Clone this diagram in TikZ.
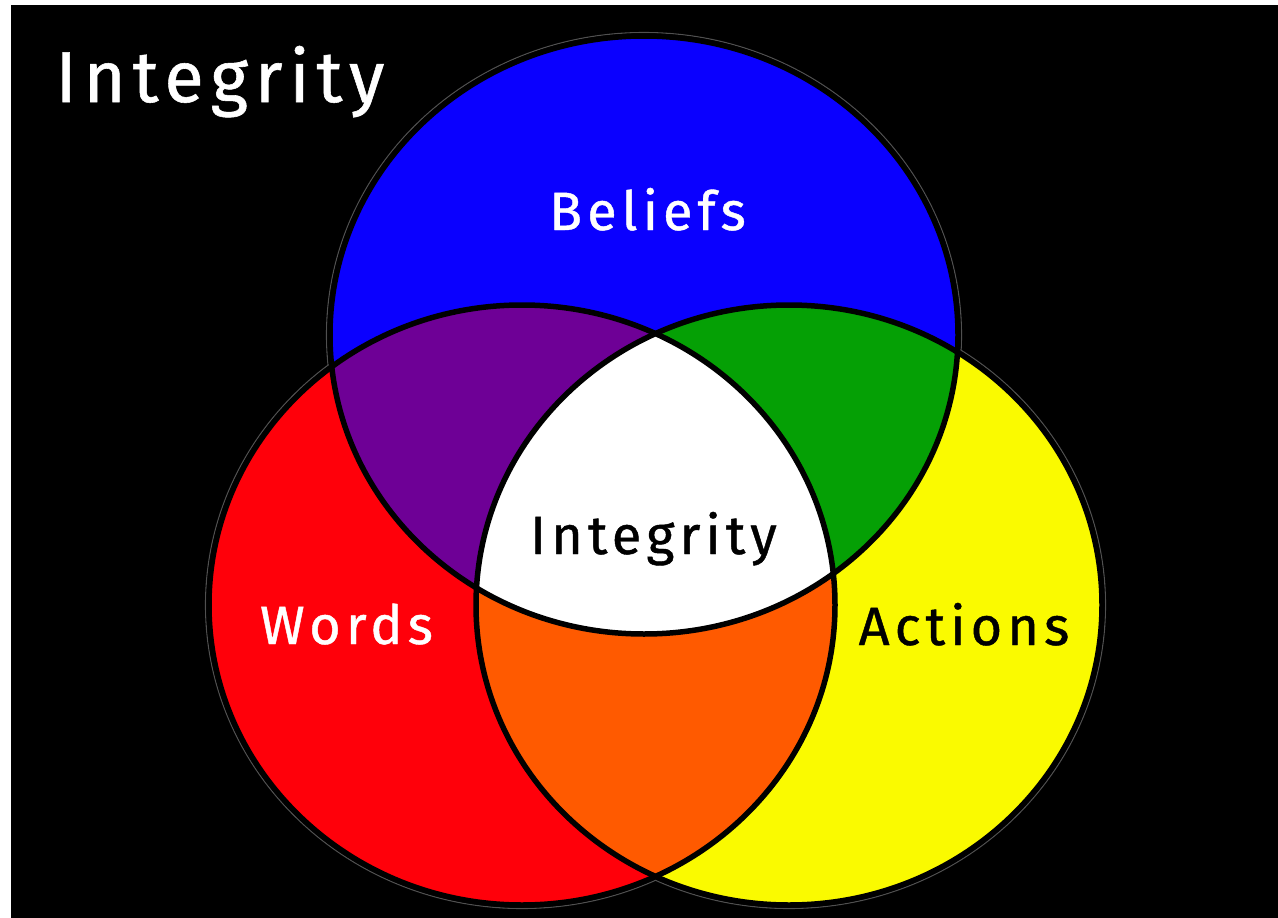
\documentclass[tikz,border=0pt]{standalone}
\usepackage{fontspec}
\newfontfamily\lblfont[LetterSpace=9.5, FakeBold=0.8]{Fira Sans}
\definecolor{cBlue}{RGB}{10,0,255}
\definecolor{cRed}{RGB}{255,0,10}
\definecolor{cYellow}{RGB}{250,250,0}
\definecolor{cPurple}{RGB}{110,0,150}
\definecolor{cGreen}{RGB}{5,160,5}
\definecolor{cOrange}{RGB}{255,90,0}
\definecolor{cRing}{RGB}{80,80,80}
\tikzset{
  lbl/.style={inner sep=0pt, anchor=base, font=\lblfont\fontsize{54}{60}\selectfont},
  ttl/.style={inner sep=0pt, anchor=base, font=\lblfont\fontsize{72}{80}\selectfont, text=white},
  ring/.style={draw=cRing, line width=1.1pt},
  edge/.style={draw=black, line width=5.5pt}
}
\def\blueE{(644,335) ellipse [x radius=314pt, y radius=299pt]}
\def\redE{(522,605) ellipse [x radius=313pt, y radius=300pt]}
\def\yelE{(789,605) ellipse [x radius=313pt, y radius=300pt]}
\begin{document}
\begin{tikzpicture}[x=1pt,y=-1pt]
\useasboundingbox (0,0) rectangle (1278,918);
\fill[white] (0,0) rectangle (1278,918);
\fill[black] (11,5) rectangle (1278,918);
% faint outer rings
\draw[ring] (644,335) ellipse [x radius=317.5pt, y radius=302.5pt];
\draw[ring] (522,605) ellipse [x radius=316.5pt, y radius=303.5pt];
\draw[ring] (789,605) ellipse [x radius=316.5pt, y radius=303.5pt];
% base fills
\fill[cBlue] \blueE;
\fill[cRed] \redE;
\fill[cYellow] \yelE;
% pairwise overlaps
\begin{scope}\clip \blueE; \fill[cPurple] \redE; \end{scope}
\begin{scope}\clip \blueE; \fill[cGreen] \yelE; \end{scope}
\begin{scope}\clip \redE; \fill[cOrange] \yelE; \end{scope}
% triple overlap
\begin{scope}\clip \blueE; \clip \redE; \fill[white] \yelE; \end{scope}
% outlines
\draw[edge] \blueE;
\draw[edge] \redE;
\draw[edge] \yelE;
% labels
\node[ttl] (title) at (220,102) {Integrity};
\node[lbl, text=white] (beliefs) at (647.5,230) {Beliefs};
\node[lbl, text=black] (center) at (653.5,554) {Integrity};
\node[lbl, text=white] (words) at (346.5,644) {Words};
\node[lbl, text=black] (actions) at (964,645) {Actions};
\end{tikzpicture}
\end{document}
